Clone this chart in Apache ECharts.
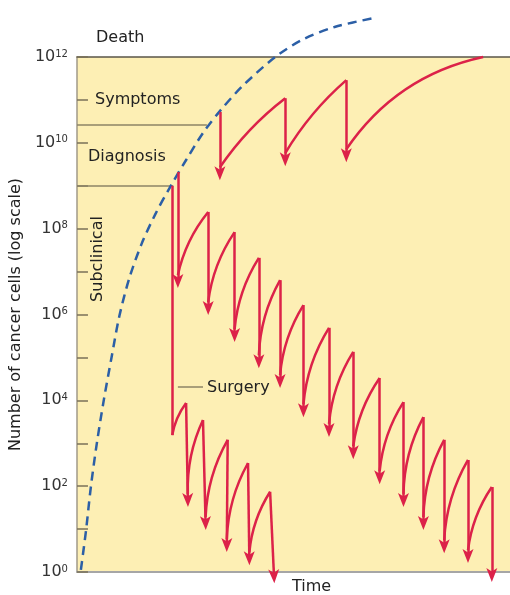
<!DOCTYPE html>
<html><head><meta charset="utf-8">
<script src="https://cdn.jsdelivr.net/npm/echarts@6/dist/echarts.min.js"></script>
<style>html,body{margin:0;padding:0;background:#fff}#c{width:510px;height:595px}</style>
</head><body><div id="c"></div>
<script>
// Time runs 0..100 (arbitrary units); cell counts are given as log10 exponents.
// Untreated tumour growth (dashed curve)
const growthT = [0.9, 2.1, 3.2, 4.6, 6.2, 8.0, 9.8, 12.1, 14.9, 18.1, 21.5, 25.2, 29.1, 33.0, 38.2, 45.8, 52.0, 59.5, 68.7];
const growthE = [0.05, 0.98, 1.98, 3.01, 4.01, 5.01, 5.97, 6.85, 7.64, 8.34, 8.97, 9.60, 10.23, 10.74, 11.32, 12.0, 12.40, 12.70, 12.91];

// Treatment begun at symptoms (top sawtooth)
const symptomDropT = [33.0, 48.1, 62.2];
const symptomPeakE = [10.72, 11.04, 11.46];
const symptomTipE = [9.13, 9.46, 9.55];
const deathT = 93.8;
const deathE = 12.0;

// Chemotherapy begun at diagnosis (long sawtooth)
const chemoDropT = [23.3, 30.3, 36.4, 42.0, 46.9, 52.3, 58.2, 63.8, 69.9, 75.4, 80.0, 84.8, 90.3, 95.8];
const chemoPeakE = [9.32, 8.39, 7.92, 7.32, 6.80, 6.22, 5.69, 5.13, 4.52, 3.96, 3.61, 3.08, 2.61, 1.98];
const chemoTipE = [6.62, 5.99, 5.36, 4.75, 4.29, 3.61, 3.15, 2.63, 2.05, 1.52, 0.98, 0.44, 0.21, -0.23];

// Surgery followed by chemotherapy
const surgeryT = 22.0;
const surgeryFromE = 9.0;
const surgeryToE = 3.19;
const postPeakT = [25.2, 29.1, 34.8, 39.5, 44.6];
const postPeakE = [3.94, 3.54, 3.08, 2.54, 1.87];
const postTipT = [25.6, 29.7, 34.6, 39.8, 45.5];
const postTipE = [1.52, 0.98, 0.47, 0.16, -0.26];

// Threshold lines and labels
const symptomLevelE = 10.42, symptomLineEndT = 30.0;
const diagnosisLevelE = 9.0, diagnosisLineEndT = 22.2;
const surgeryLeaderE = 4.31, surgeryLeaderT = [23.3, 29.1];
const tickExponents = [0, 2, 4, 6, 8, 10, 12];

const RED = '#dc2249';
const ARROW_HALF = 0.16;   // half arrowhead length (decades) so the tip lands on the read value
const REGROW_OFFSET = 0.3; // regrowth leaves the shaft at the arrowhead
const ARROW = 'path://M5,0L10,14L5,10.5L0,14Z';

const drops = [];
const rises = [];
symptomDropT.forEach((t, i) => {
  drops.push({coords: [[t, symptomPeakE[i]], [t, symptomTipE[i] + ARROW_HALF]]});
  const last = i + 1 >= symptomDropT.length;
  const end = last ? [deathT, deathE] : [symptomDropT[i + 1], symptomPeakE[i + 1]];
  rises.push({coords: [[t, symptomTipE[i] + REGROW_OFFSET], end], lineStyle: {curveness: last ? 0.2 : 0.08}});
});
chemoDropT.forEach((t, i) => {
  drops.push({coords: [[t, chemoPeakE[i]], [t, chemoTipE[i] + ARROW_HALF]]});
  if (i > 0) rises.push({coords: [[chemoDropT[i - 1], chemoTipE[i - 1] + REGROW_OFFSET], [t, chemoPeakE[i]]]});
});
postPeakT.forEach((t, i) => {
  drops.push({coords: [[t, postPeakE[i]], [postTipT[i], postTipE[i] + ARROW_HALF]]});
  const start = i === 0 ? [surgeryT, surgeryToE] : [postTipT[i - 1], postTipE[i - 1] + REGROW_OFFSET];
  rises.push({coords: [start, [t, postPeakE[i]]]});
});

const FONT = 'DejaVu Sans';
const txt = (text, x, y, extra) => Object.assign({type: 'text', x, y, silent: true,
  style: {text, fontSize: 16, fontFamily: FONT, fill: '#222', textVerticalAlign: 'middle'}}, extra || {});

const chart = echarts.init(document.getElementById('c'), null, {renderer: 'canvas'});
chart.setOption({
  animation: false,
  backgroundColor: '#fff',
  grid: {left: 73, right: 0, top: 57, bottom: 23, show: true, backgroundColor: '#fdefb4', borderWidth: 0},
  xAxis: [
    {type: 'value', min: 0, max: 100, position: 'bottom',
     axisLine: {show: true, onZero: false, lineStyle: {color: '#a6a6a6', width: 2}},
     axisTick: {show: false}, axisLabel: {show: false}, splitLine: {show: false}},
    {type: 'value', min: 0, max: 100, position: 'top',
     axisLine: {show: true, onZero: false, lineStyle: {color: '#5a5648', width: 1.5}},
     axisTick: {show: false}, axisLabel: {show: false}, splitLine: {show: false}}
  ],
  yAxis: {
    type: 'value', min: 0, max: 12, interval: 1,
    axisLine: {show: true, onZero: false, lineStyle: {color: '#a09a88', width: 1.5}},
    axisTick: {show: true, inside: true, length: 11, lineStyle: {color: '#7a7258', width: 1.5}},
    splitLine: {show: false},
    axisLabel: {
      formatter: v => tickExponents.indexOf(v) >= 0 ? '10{sup|' + v + '}' : '',
      margin: 9, color: '#333', fontFamily: FONT, fontSize: 16,
      rich: {sup: {fontSize: 10, verticalAlign: 'top', fontFamily: FONT, color: '#333'}}
    },
    name: 'Number of cancer cells (log scale)', nameLocation: 'middle', nameGap: 48,
    nameTextStyle: {fontSize: 16, fontFamily: FONT, color: '#222'}
  },
  series: [
    {type: 'lines', coordinateSystem: 'cartesian2d', clip: false, z: 1, silent: true,
     lineStyle: {color: '#8d8466', width: 1.5, opacity: 1},
     data: [
       {coords: [[0, symptomLevelE], [symptomLineEndT, symptomLevelE]]},
       {coords: [[0, diagnosisLevelE], [diagnosisLineEndT, diagnosisLevelE]]},
       {coords: [[surgeryLeaderT[0], surgeryLeaderE], [surgeryLeaderT[1], surgeryLeaderE]]}
     ]},
    {type: 'line', clip: false, z: 2, silent: true, smooth: 0.3, showSymbol: false, symbol: 'none',
     lineStyle: {color: '#2c5fa6', width: 2.5, type: [9, 6]},
     data: growthT.map((t, i) => [t, growthE[i]])},
    {type: 'lines', coordinateSystem: 'cartesian2d', clip: false, z: 3, silent: true,
     lineStyle: {color: RED, width: 2.5, opacity: 1, curveness: 0},
     data: [{coords: [[surgeryT, surgeryFromE], [surgeryT, surgeryToE]]}]},
    {type: 'lines', coordinateSystem: 'cartesian2d', clip: false, z: 3, silent: true,
     symbol: ['none', ARROW], symbolSize: [1, [11, 14]],
     lineStyle: {color: RED, width: 2.5, opacity: 1, curveness: 0},
     data: drops},
    {type: 'lines', coordinateSystem: 'cartesian2d', clip: false, z: 3, silent: true,
     symbol: 'none',
     lineStyle: {color: RED, width: 2.5, opacity: 1, curveness: 0.12},
     data: rises}
  ],
  graphic: [
    txt('Death', 96, 38),
    txt('Symptoms', 95, 100),
    txt('Diagnosis', 88, 157),
    txt('Subclinical', 98, 259, {rotation: Math.PI / 2, style: {text: 'Subclinical', fontSize: 16, fontFamily: FONT, fill: '#222', textAlign: 'center', textVerticalAlign: 'middle'}}),
    txt('Surgery', 207, 388),
    txt('Time', 292, 587)
  ]
});
</script>
</body></html>
